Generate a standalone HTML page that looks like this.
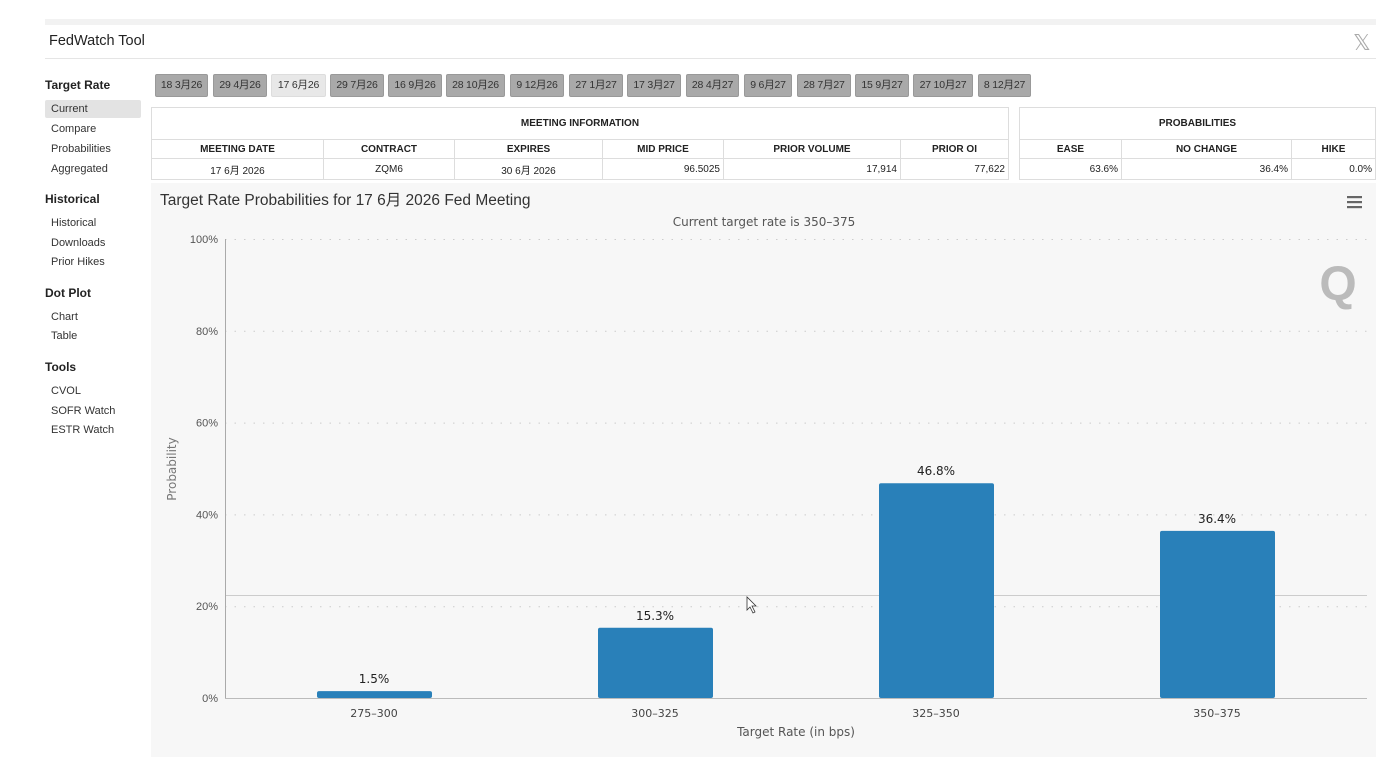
<!DOCTYPE html>
<html><head><meta charset="utf-8"><style>
*{box-sizing:border-box;margin:0;padding:0}
body{width:1386px;height:759px;background:#fff;font-family:"Liberation Sans","Noto Sans CJK SC",sans-serif;position:relative;overflow:hidden;color:#222}
.abs{position:absolute}
.side{font-size:11px;color:#333}
.hd{font-size:12px;font-weight:bold;color:#222}
.tab{position:absolute;top:74px;height:23px;background:#a9a9a9;border:1px solid #999;border-radius:2px;font-size:10.5px;color:#333;line-height:21px;text-align:center;white-space:nowrap;letter-spacing:-0.2px}
.tab.on{background:#e8e8e8;border-color:#ddd}
table{border-collapse:collapse;font-size:10px;position:absolute;background:#fff}
td{border:1px solid #ddd;height:21px;text-align:center}
.h td{font-weight:bold;height:25px}
.r{text-align:right;padding-right:3px}
</style></head><body>
<div class="abs" style="left:45px;top:19px;width:1331px;height:6px;background:#f2f2f2"></div>
<div class="abs" style="left:49px;top:33px;font-size:14.5px;color:#222">FedWatch Tool</div>
<div class="abs" style="left:1353px;top:30px;font-size:22px;color:#aaa">𝕏</div>
<div class="abs" style="left:45px;top:58px;width:1331px;height:1px;background:#e5e5e5"></div>

<div class="abs hd" style="left:45px;top:78px">Target Rate</div>
<div class="abs side" style="left:45px;top:100px;width:96px;height:18px;background:#e3e3e3;border-radius:2px;padding:3px 6px">Current</div>
<div class="abs side" style="left:51px;top:123px">Compare</div>
<div class="abs side" style="left:51px;top:143px">Probabilities</div>
<div class="abs side" style="left:51px;top:163px">Aggregated</div>
<div class="abs hd" style="left:45px;top:192px">Historical</div>
<div class="abs side" style="left:51px;top:217px">Historical</div>
<div class="abs side" style="left:51px;top:237px">Downloads</div>
<div class="abs side" style="left:51px;top:256px">Prior Hikes</div>
<div class="abs hd" style="left:45px;top:286px">Dot Plot</div>
<div class="abs side" style="left:51px;top:311px">Chart</div>
<div class="abs side" style="left:51px;top:330px">Table</div>
<div class="abs hd" style="left:45px;top:360px">Tools</div>
<div class="abs side" style="left:51px;top:385px">CVOL</div>
<div class="abs side" style="left:51px;top:405px">SOFR Watch</div>
<div class="abs side" style="left:51px;top:424px">ESTR Watch</div>

<div class="tab" style="left:155px;width:53px">18 3月26</div>
<div class="tab" style="left:213px;width:54px">29 4月26</div>
<div class="tab on" style="left:271px;width:55px">17 6月26</div>
<div class="tab" style="left:330px;width:54px">29 7月26</div>
<div class="tab" style="left:388px;width:54px">16 9月26</div>
<div class="tab" style="left:446px;width:59px">28 10月26</div>
<div class="tab" style="left:510px;width:54px">9 12月26</div>
<div class="tab" style="left:569px;width:54px">27 1月27</div>
<div class="tab" style="left:627px;width:54px">17 3月27</div>
<div class="tab" style="left:686px;width:53px">28 4月27</div>
<div class="tab" style="left:744px;width:48px">9 6月27</div>
<div class="tab" style="left:797px;width:54px">28 7月27</div>
<div class="tab" style="left:855px;width:54px">15 9月27</div>
<div class="tab" style="left:913px;width:60px">27 10月27</div>
<div class="tab" style="left:978px;width:53px">8 12月27</div>

<table style="left:151px;top:107px;width:858px">
<tr class="h"><td colspan="6" style="height:32px">MEETING INFORMATION</td></tr>
<tr class="h"><td style="width:172px;height:19px">MEETING DATE</td><td style="width:131px;height:19px">CONTRACT</td><td style="width:148px;height:19px">EXPIRES</td><td style="width:121px;height:19px">MID PRICE</td><td style="width:177px;height:19px">PRIOR VOLUME</td><td style="height:19px">PRIOR OI</td></tr>
<tr><td>17 6月 2026</td><td>ZQM6</td><td>30 6月 2026</td><td class="r">96.5025</td><td class="r">17,914</td><td class="r">77,622</td></tr>
</table>
<table style="left:1019px;top:107px;width:357px">
<tr class="h"><td colspan="3" style="height:32px">PROBABILITIES</td></tr>
<tr class="h"><td style="width:102px;height:19px">EASE</td><td style="width:170px;height:19px">NO CHANGE</td><td style="height:19px">HIKE</td></tr>
<tr><td class="r">63.6%</td><td class="r">36.4%</td><td class="r">0.0%</td></tr>
</table>

<svg class="abs" style="left:0;top:0" width="1386" height="759" font-family="Liberation Sans, DejaVu Sans, Noto Sans CJK SC, sans-serif">
<rect x="151" y="183" width="1225" height="574" fill="#f7f7f7"/>
<text x="160" y="205" font-size="15.5" fill="#333">Target Rate Probabilities for 17 6月 2026 Fed Meeting</text>
<text x="764" y="226" font-size="12" fill="#555" text-anchor="middle" font-family="DejaVu Sans, sans-serif">Current target rate is 350–375</text>
<g fill="#666"><rect x="1347" y="196" width="15" height="2.2"/><rect x="1347" y="201" width="15" height="2.2"/><rect x="1347" y="206" width="15" height="2.2"/></g>
<text x="1338" y="300" font-size="48" font-weight="bold" fill="#bbb" text-anchor="middle">Q</text>
<g id="grid"></g>
<line x1="225" y1="595.5" x2="1367" y2="595.5" stroke="#ccc"/>
<g id="bars"></g>
<line x1="225.5" y1="239" x2="225.5" y2="698" stroke="#aaa"/>
<line x1="225" y1="698.5" x2="1367" y2="698.5" stroke="#bbb"/>
<text transform="translate(176,469) rotate(-90)" font-size="12" fill="#777" text-anchor="middle" font-family="DejaVu Sans, sans-serif">Probability</text>
<text x="796" y="736" font-size="12" fill="#555" text-anchor="middle" font-family="DejaVu Sans, sans-serif">Target Rate (in bps)</text>
<path d="M747 597 L747 610 L750 607 L753 613 L755 612 L752 606 L756 606 Z" fill="#fff" stroke="#333" stroke-width="0.8"/>
</svg>
<script>
const categories=["275-300","300-325","325-350","350-375"];
const values=[1.5,15.3,46.8,36.4];
const yTicks=[0,20,40,60,80,100];
const ns="http://www.w3.org/2000/svg";
const y0=698,y1=239,x0=225,x1=1367;
function yScale(v){return y0-(v/100)*(y0-y1);}
function xCenter(i){return 374+i*281;}
const grid=document.getElementById('grid'),bars=document.getElementById('bars');
function mk(tag,attrs,parent,txt){const e=document.createElementNS(ns,tag);for(const k in attrs)e.setAttribute(k,attrs[k]);if(txt!==undefined)e.textContent=txt;parent.appendChild(e);return e;}
yTicks.forEach(t=>{const y=yScale(t);
 const l=mk('line',{x1:x0,x2:x1,y1:y+0.5,y2:y+0.5,stroke:'#ccc','stroke-dasharray':'1.5 8'},grid);
 
 
 const tx=mk('text',{x:218,y:y+4,'font-size':11,fill:'#555','text-anchor':'end'},grid,t+'%');
 
 
});
categories.forEach((c,i)=>{const cx=xCenter(i),y=yScale(values[i]);
 const r=mk('rect',{x:cx-57,y:y,width:115,height:y0-y,fill:'#2980b9',rx:2},bars);
 
 
 const v=mk('text',{x:cx,y:y-8,'font-size':12,fill:'#222','text-anchor':'middle','font-family':'DejaVu Sans, sans-serif'},bars,values[i].toFixed(1)+'%');
 
 
 const xl=mk('text',{x:cx,y:717,'font-size':11,fill:'#444','text-anchor':'middle','font-family':'DejaVu Sans, sans-serif'},bars,c.replace('-','–'));
 
 
});
</script>
</body></html>
